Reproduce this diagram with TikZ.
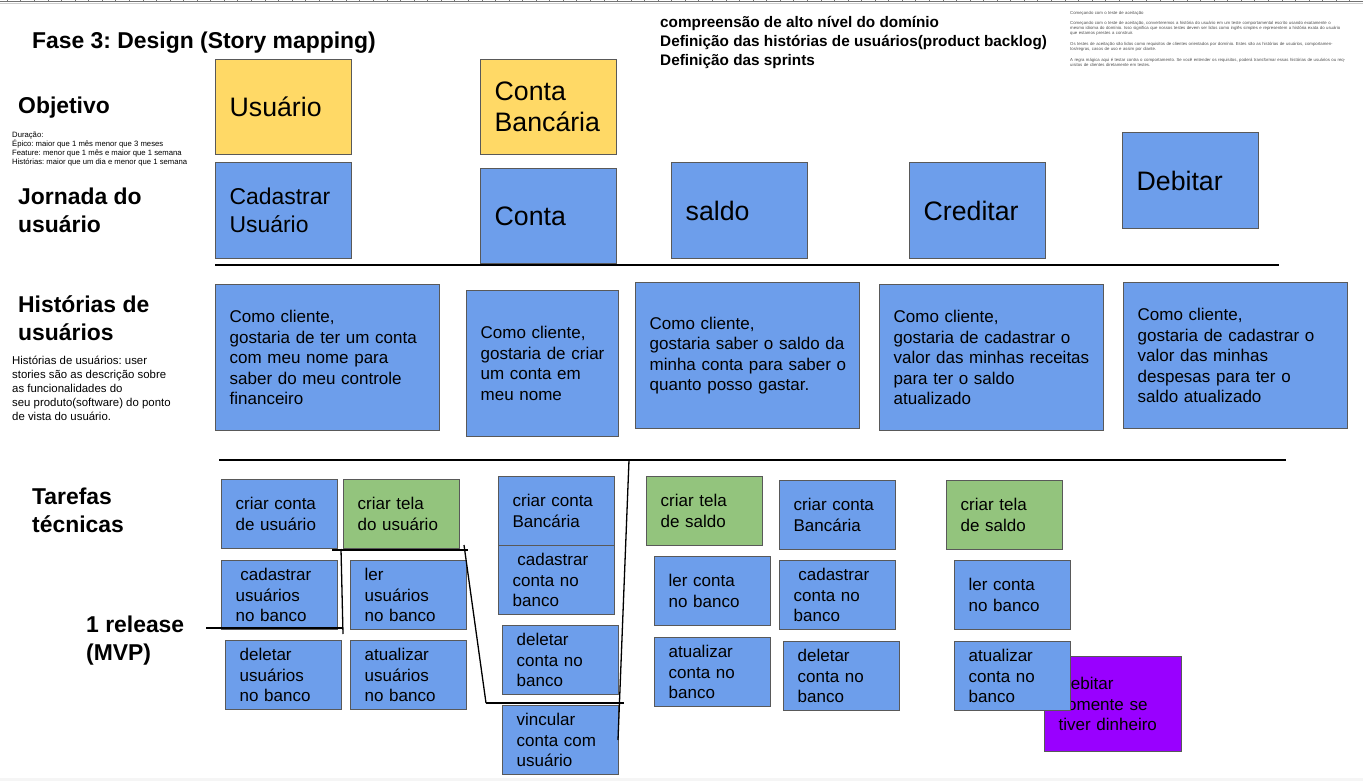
\documentclass[tikz,border=0pt]{standalone}
\usepackage{fontspec}
\setmainfont{Liberation Sans}
\usetikzlibrary{positioning}
\definecolor{notayellow}{HTML}{FFD966}
\definecolor{notablue}{HTML}{6D9EEB}
\definecolor{notagreen}{HTML}{93C47D}
\definecolor{notapurple}{HTML}{9900FF}
\definecolor{notaedge}{HTML}{595959}
\def\fbig{\fontsize{26.7}{31}\selectfont}
\def\fmid{\fontsize{22.9}{28}\selectfont}
\def\fnota{\fontsize{17}{20.5}\selectfont}
\def\ftopo{\fontsize{15.3}{19}\selectfont}
\def\fnotinha{\fontsize{11.4}{14}\selectfont}
\def\fmini{\fontsize{7.7}{9}\selectfont}
\def\ftiny{\fontsize{4.3}{5}\selectfont}

\begin{document}
\frenchspacing
\begin{tikzpicture}[x=1pt,y=-1pt,
	nota/.style={draw=notaedge, line width=1.3pt, anchor=north west, align=left,
		inner xsep=14pt, inner ysep=0pt, text=black,
		execute at begin node={\rightskip=0pt plus 1fil minus 100pt}},
	grande/.style={nota, text width=108pt, minimum width=136pt, minimum height=96pt, font=\fbig},
	historia/.style={nota, fill=notablue, text width=196pt, minimum width=224pt, minimum height=146pt, font=\fnota},
	estreita/.style={text width=124pt, minimum width=152pt},
	tarefa/.style={nota, text width=88pt, minimum width=116pt, minimum height=69pt, font=\fnota},
	rotulo/.style={anchor=west, align=left, inner sep=0pt, font=\fmid\bfseries},
	marco/.style={line width=1.3pt, black}]
	%%%%% START %%%%%
	
	\useasboundingbox (0,0) rectangle (1363,781);
	
	% ruler and bottom edge
	\fill[black!4] (0,778) rectangle (1363,781);
	\draw[black!55, line width=1pt] (0,1.7) -- (1363,1.7);
	\draw[black!20, line width=0.8pt] (0,3.9) -- (1363,3.9);
	\foreach \i in {0,...,100}
		\draw[black!55, line width=0.8pt] ({7.3+13.56*\i},0) -- ({7.3+13.56*\i},1.7);
	
	% titles and row labels
	\node[rotulo] (titulo) at (32,43) {Fase 3: Design (Story mapping)};
	\node[rotulo] (objetivo) at (18,108) {Objetivo};
	\node[rotulo] (jornada) at (18,210) {Jornada do\\usuário};
	\node[rotulo] (historias) at (18,318) {Histórias de\\usuários};
	\node[rotulo] (tarefas) at (32,510) {Tarefas\\técnicas};
	\node[rotulo] (release) at (86,641) {1 release\\(MVP)};
	
	\node[anchor=west, align=left, inner sep=0pt, font=\ftopo\bfseries] (metas) at (660,42)
		{compreensão de alto nível do domínio\\Definição das histórias de usuários(product backlog)\\Definição das sprints};
	\node[anchor=west, align=left, inner sep=0pt, font=\fmini] (duracao) at (12,149)
		{Duração:\\Épico: maior que 1 mês menor que 3 meses\\Feature: menor que 1 mês e maior que 1 semana\\Histórias: maior que um dia e menor que 1 semana};
	\node[anchor=west, align=left, inner sep=0pt, font=\fnotinha] (definicao) at (12,388)
		{Histórias de usuários: user\\stories são as descrição sobre\\as funcionalidades do\\seu produto(software) do ponto\\de vista do usuário.};
	\node[anchor=north west, align=left, inner sep=0pt, text width=276pt, font=\ftiny, text=black!70] (aceitacao) at (1070,11)
		{Começando com o teste de aceitação\\[5.5pt]
		Começando com o teste de aceitação, converteremos a história do usuário em um teste comportamental escrito usando exatamente o mesmo idioma do domínio. Isso significa que nossos testes devem ser lidos como inglês simples e representem a história exata do usuário que estamos prestes a construir.\\[5.5pt]
		Os testes de aceitação são lidos como requisitos de clientes orientados por domínio. Estes são as histórias de usuários, comportamentos/regras, casos de uso e assim por diante.\\[6.5pt]
		A regra mágica aqui é testar contra o comportamento. Se você entender os requisitos, poderá transformar essas histórias de usuários ou requisitos de clientes diretamente em testes.};
	
	% objetivo
	\node[grande, fill=notayellow, minimum height=95pt] (usuario) at (215,59) {Usuário};
	\node[grande, fill=notayellow, minimum height=95pt] (contaBancaria) at (480,59) {Conta\\Bancária};
	
	% jornada do usuario
	\node[grande, fill=notablue, font=\fmid] (cadastrarUsuario) at (215,162) {Cadastrar\\Usuário};
	\node[grande, fill=notablue, minimum height=95pt] (conta) at (480,168) {Conta};
	\node[grande, fill=notablue] (saldo) at (671,162) {saldo};
	\node[grande, fill=notablue] (creditar) at (909,162) {Creditar};
	\node[grande, fill=notablue] (debitar) at (1122,132) {Debitar};
	
	\draw[line width=1.8pt] (215,265) -- (1279,265);
	
	% historias de usuarios
	\node[historia] (hist1) at (215,284) {Como cliente,\\gostaria de ter um conta\\com meu nome para\\saber do meu controle\\financeiro};
	\node[historia, estreita] (hist2) at (466,290) {Como cliente,\\gostaria de criar\\um conta em\\meu nome};
	\node[historia] (hist3) at (635,282) {Como cliente,\\gostaria saber o saldo da\\minha conta para saber o\\quanto posso gastar.};
	\node[historia] (hist4) at (879,284) {Como cliente,\\gostaria de cadastrar o\\valor das minhas receitas\\para ter o saldo\\atualizado};
	\node[historia] (hist5) at (1123,282) {Como cliente,\\gostaria de cadastrar o\\valor das minhas\\despesas para ter o\\saldo atualizado};
	
	\draw[line width=1.5pt] (219,460) -- (1286,460);
	
	% tarefas tecnicas
	\node[tarefa, fill=notablue] (criarContaUsuario) at (221,479) {criar conta\\de usuário};
	\node[tarefa, fill=notagreen] (telaUsuario) at (343,479) {criar tela\\do usuário};
	\node[tarefa, fill=notablue] (criarContaBanc1) at (498,476) {criar conta\\Bancária};
	\node[tarefa, fill=notagreen] (telaSaldo1) at (646,476) {criar tela\\de saldo};
	\node[tarefa, fill=notablue] (criarContaBanc2) at (779,480) {criar conta\\Bancária};
	\node[tarefa, fill=notagreen] (telaSaldo2) at (946,480) {criar tela\\de saldo};
	
	\node[tarefa, fill=notablue] (cadastrarUsuarios) at (221,560) {\hspace{4.7pt}cadastrar\\usuários\\no banco};
	\node[tarefa, fill=notablue] (lerUsuarios) at (350,560) {ler\\usuários\\no banco};
	\node[tarefa, fill=notablue] (cadastrarConta1) at (498,545) {\hspace{4.7pt}cadastrar\\conta no\\banco};
	\node[tarefa, fill=notablue] (lerConta1) at (654,556) {ler conta\\no banco};
	\node[tarefa, fill=notablue] (cadastrarConta2) at (779,560) {\hspace{4.7pt}cadastrar\\conta no\\banco};
	\node[tarefa, fill=notablue] (lerConta2) at (954,560) {ler conta\\no banco};
	
	\node[tarefa, fill=notablue] (deletarUsuarios) at (225,640) {deletar\\usuários\\no banco};
	\node[tarefa, fill=notablue] (atualizarUsuarios) at (350,640) {atualizar\\usuários\\no banco};
	\node[tarefa, fill=notablue] (deletarConta1) at (502,625) {deletar\\conta no\\banco};
	\node[tarefa, fill=notablue] (atualizarConta1) at (654,637) {atualizar\\conta no\\banco};
	\node[tarefa, fill=notablue] (deletarConta2) at (783,641) {deletar\\conta no\\banco};
	\node[tarefa, fill=notapurple, text width=109pt, minimum width=137pt, minimum height=95pt] (debitarSaldo) at (1044,656) {Debitar\\somente se\\tiver dinheiro};
	\node[tarefa, fill=notablue] (atualizarConta2) at (954,641) {atualizar\\conta no\\banco};
	\node[tarefa, fill=notablue] (vincularConta) at (502,705) {vincular\\conta com\\usuário};
	
	% linha do 1 release
	\draw[marco] (206,628) -- (343,628);
	\draw[marco] (341,549) -- (343,634);
	\draw[marco] (332,550) -- (468,550);
	\draw[marco] (464,545) -- (486,703);
	\draw[marco] (486,703) -- (624,703);
	\draw[marco] (629,460) -- (618,740);
	
	%%%%% END %%%%%
\end{tikzpicture}
\end{document}
